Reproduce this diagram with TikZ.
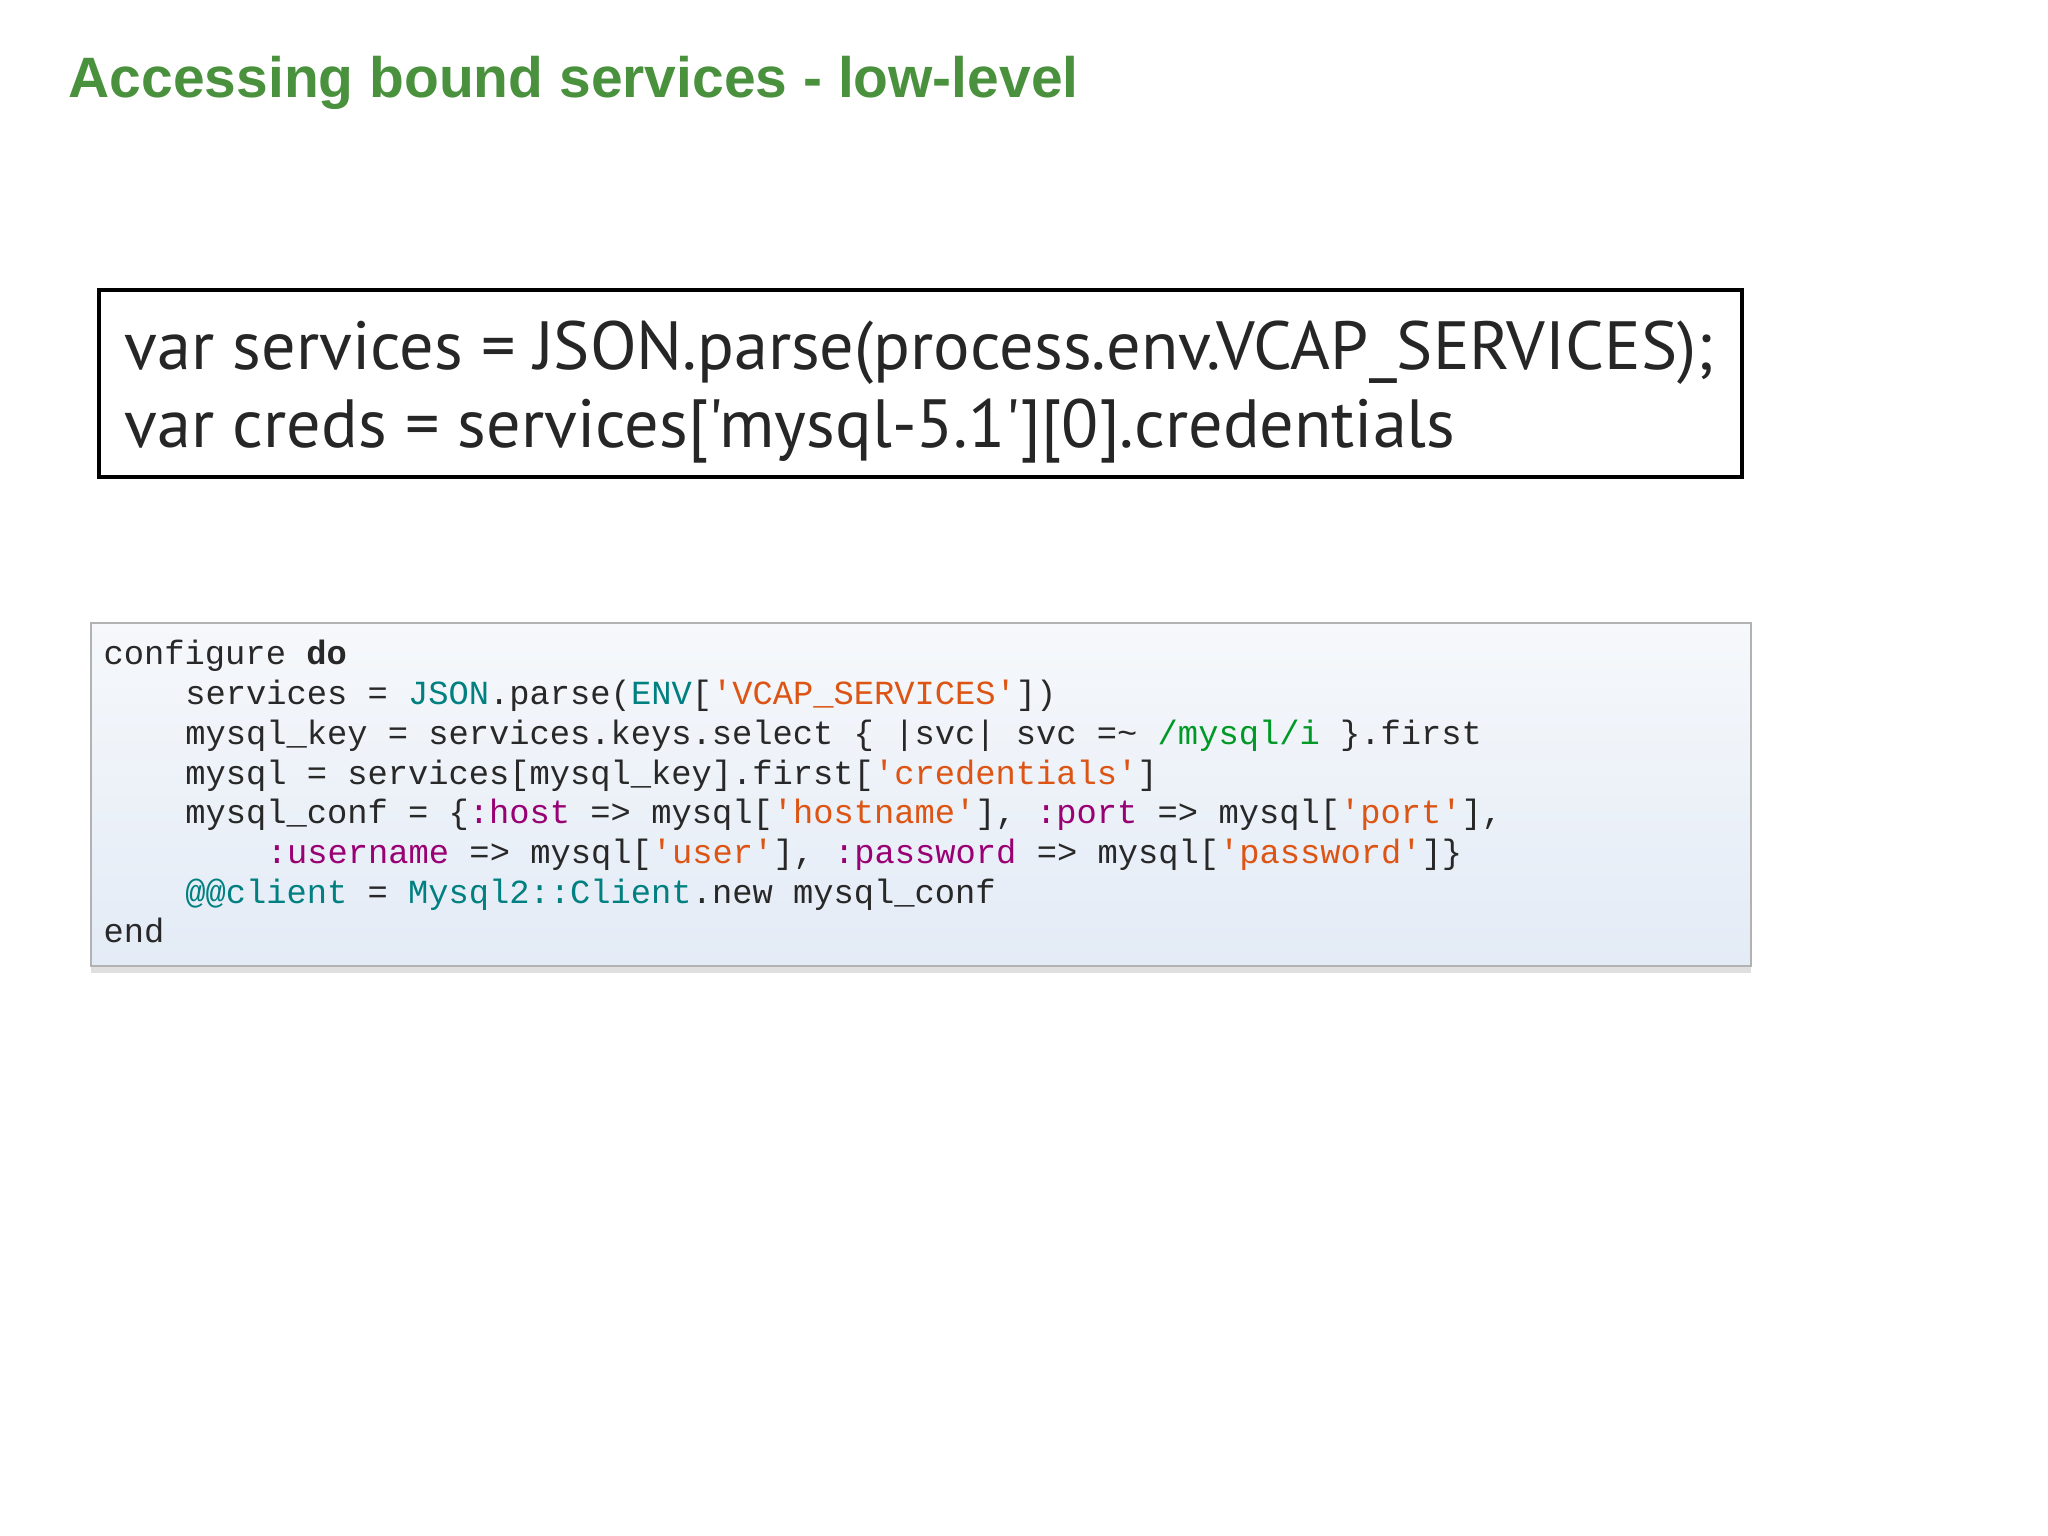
\documentclass[tikz,border=0pt]{standalone}
\usepackage{fontspec}
\setmainfont{Liberation Sans}
\setmonofont{Liberation Mono}
\newfontfamily\gill{PT Sans}
\usetikzlibrary{shadows}
\definecolor{ttl}{RGB}{74,145,62}
\definecolor{cteal}{RGB}{0,128,128}
\definecolor{cstr}{RGB}{221,85,20}
\definecolor{csym}{RGB}{153,0,115}
\definecolor{cre}{RGB}{0,153,38}
\definecolor{ctext}{RGB}{40,40,40}
\definecolor{boxtop}{RGB}{246,248,251}
\definecolor{boxbot}{RGB}{227,235,246}
\newcommand\cTe[1]{\textcolor{cteal}{#1}}
\newcommand\cSt[1]{\textcolor{cstr}{#1}}
\newcommand\cSy[1]{\textcolor{csym}{#1}}
\newcommand\cRx[1]{\textcolor{cre}{#1}}
\begin{document}
\begin{tikzpicture}[x=0.01cm,y=0.01cm,
  code/.style={anchor=base west,inner sep=0,font=\fontsize{9.6}{11}\ttfamily,text=ctext},
  big/.style={anchor=base west,inner sep=0,font=\gill\fontsize{19.4}{22}\selectfont,text=black!85}]
\useasboundingbox[fill=white] (0,0) rectangle (2048,1536);
\node[anchor=base west,inner sep=0,text=ttl,font=\bfseries\fontsize{16.2}{19}\selectfont] (title) at (68,1438) {Accessing bound services - low-level};
\draw[line width=0.9pt] (99,1246) rectangle (1742,1059);
\node[big] (l1) at (124,1166) {var services = JSON.parse(process.env.VCAP\_SERVICES);};
\node[big] (l2) at (124,1088) {var creds = services['mysql-5.1'][0].credentials};
\draw[draw=black!30,line width=0.8pt,top color=boxtop,bottom color=boxbot,
  drop shadow={opacity=0.25,shadow xshift=0pt,shadow yshift=-2pt}]
  (91,913) rectangle (1751,570);
\def\cx{103}\def\cw{20.4}\def\cy{871}\def\ch{39.7}
\node[code] (c1) at (\cx,\cy) {configure \textbf{do}};
\node[code] (c2) at (\cx+4*\cw,\cy-\ch) {services = \cTe{JSON}.parse(\cTe{ENV}[\cSt{'VCAP\_SERVICES'}])};
\node[code] (c3) at (\cx+4*\cw,\cy-2*\ch) {mysql\_key = services.keys.select \{ |svc| svc =\textasciitilde{} \cRx{/mysql/i} \}.first};
\node[code] (c4) at (\cx+4*\cw,\cy-3*\ch) {mysql = services[mysql\_key].first[\cSt{'credentials'}]};
\node[code] (c5) at (\cx+4*\cw,\cy-4*\ch) {mysql\_conf = \{\cSy{:host} => mysql[\cSt{'hostname'}], \cSy{:port} => mysql[\cSt{'port'}],};
\node[code] (c6) at (\cx+8*\cw,\cy-5*\ch) {\cSy{:username} => mysql[\cSt{'user'}], \cSy{:password} => mysql[\cSt{'password'}]\}};
\node[code] (c7) at (\cx+4*\cw,\cy-6*\ch) {\cTe{@@client} = \cTe{Mysql2::Client}.new mysql\_conf};
\node[code] (c8) at (\cx,\cy-7*\ch) {end};
\end{tikzpicture}
\end{document}
